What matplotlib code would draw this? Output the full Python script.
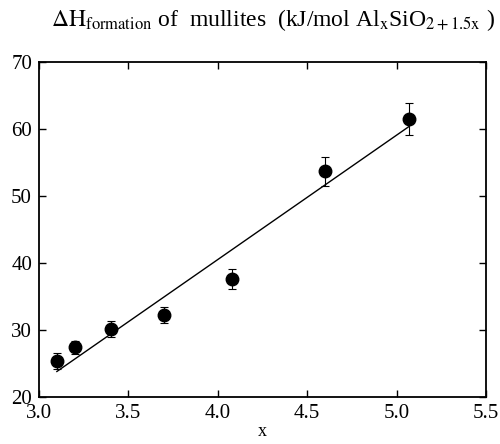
import matplotlib.pyplot as plt

x_vals = [3.1, 3.2, 3.4, 3.7, 4.077, 4.6, 5.07]
dh_vals = [25.4, 27.4, 30.1, 32.3, 37.6, 53.7, 61.5]
dh_err = [1.2, 1.0, 1.2, 1.2, 1.5, 2.2, 2.4]
fit_x = [3.1, 5.07]
fit_y = [23.8, 60.4]

plt.rcParams["font.family"] = ["Liberation Serif", "DejaVu Serif"]
plt.rcParams["mathtext.fontset"] = "stix"

fig = plt.figure(figsize=(5.0, 4.44), dpi=100)
ax = fig.add_axes([0.078, 0.106, 0.894, 0.754])

ax.plot(fit_x, fit_y, color="black", linewidth=1.0)
ax.errorbar(x_vals, dh_vals, yerr=dh_err, fmt="o", color="black",
            markersize=9, elinewidth=0.8, capsize=3, capthick=0.8)

ax.set_xlim(3.0, 5.5)
ax.set_ylim(20, 70)
ax.set_xticks([3.0, 3.5, 4.0, 4.5, 5.0, 5.5])
ax.set_yticks([20, 30, 40, 50, 60, 70])
ax.set_xticklabels(["3.0", "3.5", "4.0", "4.5", "5.0", "5.5"])
ax.tick_params(direction="in", top=True, right=True, length=5, width=1.0,
               labelsize=15, pad=5)
for s in ax.spines.values():
    s.set_linewidth(1.3)

ax.set_xlabel("x", fontsize=13, labelpad=0)
fig.text(0.545, 0.955,
         r"$\Delta\mathrm{H}_{\mathrm{formation}}$ of  mullites  (kJ/mol Al$_\mathrm{x}$SiO$_{\mathrm{2+1.5x}}$ )",
         ha="center", va="center", fontsize=17)

fig.savefig("out.png", dpi=100)
